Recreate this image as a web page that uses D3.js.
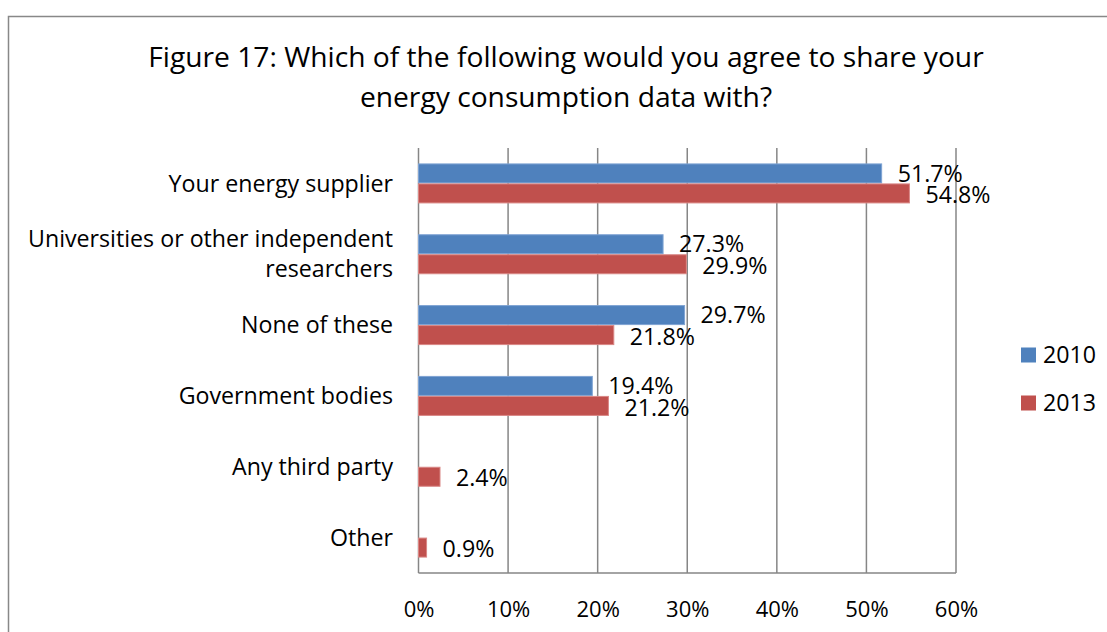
<!DOCTYPE html>
<html>
<head>
<meta charset="utf-8">
<script src="https://cdn.jsdelivr.net/npm/d3@7/dist/d3.min.js"></script>
<style>
  html, body { margin: 0; padding: 0; background: #fff; }
  svg { display: block; font-family: "Open Sans", Lato, sans-serif; }
</style>
</head>
<body>
<svg id="chart" width="1107" height="632"></svg>
<script>
// Survey answers, top to bottom
const categories = [
  ["Your energy supplier"],
  ["Universities or other independent", "researchers"],
  ["None of these"],
  ["Government bodies"],
  ["Any third party"],
  ["Other"]
];
const series = ["2010", "2013"];
const values2010 = [51.7, 27.3, 29.7, 19.4, null, null];
const values2013 = [54.8, 29.9, 21.8, 21.2, 2.4, 0.9];
const xTicks = [0, 10, 20, 30, 40, 50, 60];
const titleLines = [
  "Figure 17: Which of the following would you agree to share your",
  "energy consumption data with?"
];

const colors = { "2010": "#4F81BD", "2013": "#C0504D" };
const strokes = { "2010": "#7FA3D3", "2013": "#D98785" };
const gridColor = "#868686";
const FONT = "'Open Sans', Lato, sans-serif";
const labelSize = 23.2;

const svg = d3.select("#chart");
const W = 1107, H = 632;

// outer frame (continues past the right and bottom edges)
svg.append("rect")
  .attr("x", 8.5).attr("y", 16.5)
  .attr("width", W + 20).attr("height", H + 20)
  .attr("fill", "#fff").attr("stroke", "#888").attr("stroke-width", 1.5);

// title
svg.append("g").selectAll("text").data(titleLines).join("text")
  .attr("x", 566).attr("y", (d, i) => 67 + i * 40)
  .attr("text-anchor", "middle")
  .attr("font-size", 28.2).attr("fill", "#000")
  .text(d => d);

const plot = { left: 418.5, right: 956, top: 148, bottom: 573 };

const x = d3.scaleLinear().domain([0, 60]).range([plot.left, plot.right]);
const y = d3.scaleBand().domain(d3.range(categories.length))
  .range([plot.top, plot.bottom]).paddingInner(0).paddingOuter(0);
const barH = 20;
const sub = d3.scaleBand().domain(series)
  .range([y.bandwidth() / 2 - barH, y.bandwidth() / 2 + barH]);

// vertical gridlines
svg.append("g").selectAll("line").data(xTicks).join("line")
  .attr("x1", d => x(d)).attr("x2", d => x(d))
  .attr("y1", plot.top).attr("y2", plot.bottom)
  .attr("stroke", gridColor).attr("stroke-width", 1.5);

// plot area bottom edge
svg.append("line")
  .attr("x1", plot.left).attr("x2", plot.right)
  .attr("y1", plot.bottom).attr("y2", plot.bottom)
  .attr("stroke", gridColor).attr("stroke-width", 1.5);

// x axis labels
const xAxis = d3.axisBottom(x).tickValues(xTicks).tickSize(0).tickPadding(0)
  .tickFormat(d => d + "%");
const gx = svg.append("g").attr("transform", `translate(0,${plot.bottom})`).call(xAxis);
gx.select(".domain").remove();
gx.selectAll("text")
  .attr("font-family", FONT)
  .attr("font-size", 22).attr("fill", "#000")
  .attr("dy", 0).attr("y", 44);

// category labels
const catG = svg.append("g");
categories.forEach((lines, i) => {
  const cy = y(i) + y.bandwidth() / 2;
  const lh = 30;
  lines.forEach((t, j) => {
    catG.append("text")
      .attr("x", 393)
      .attr("y", cy + (j - (lines.length - 1) / 2) * lh)
      .attr("dy", "0.35em")
      .attr("text-anchor", "end")
      .attr("font-size", labelSize).attr("fill", "#000")
      .text(t);
  });
});

// bars and labels
const rows = [];
categories.forEach((c, i) => {
  rows.push({ i, s: "2010", v: values2010[i] });
  rows.push({ i, s: "2013", v: values2013[i] });
});
const valid = rows.filter(d => d.v != null);

svg.append("g").selectAll("rect").data(valid).join("rect")
  .attr("x", x(0))
  .attr("y", d => y(d.i) + sub(d.s) + 0.5)
  .attr("width", d => x(d.v) - x(0))
  .attr("height", sub.bandwidth() - 1)
  .attr("fill", d => colors[d.s])
  .attr("stroke", d => strokes[d.s]).attr("stroke-width", 1);

svg.append("g").selectAll("text").data(valid).join("text")
  .attr("x", d => x(d.v) + 16)
  .attr("y", d => y(d.i) + sub(d.s) + sub.bandwidth() / 2 + (d.s === "2013" ? 1.5 : 0))
  .attr("dy", "0.35em")
  .attr("font-size", labelSize).attr("fill", "#000")
  .text(d => d.v.toFixed(1) + "%");

// legend
const leg = svg.append("g");
series.forEach((s, k) => {
  const ly = 355 + k * 48;
  leg.append("rect")
    .attr("x", 1021).attr("y", ly - 7.5).attr("width", 15).attr("height", 15)
    .attr("fill", colors[s]);
  leg.append("text")
    .attr("x", 1043).attr("y", ly).attr("dy", "0.35em")
    .attr("font-size", labelSize).attr("fill", "#000")
    .text(s);
});
</script>
</body>
</html>
